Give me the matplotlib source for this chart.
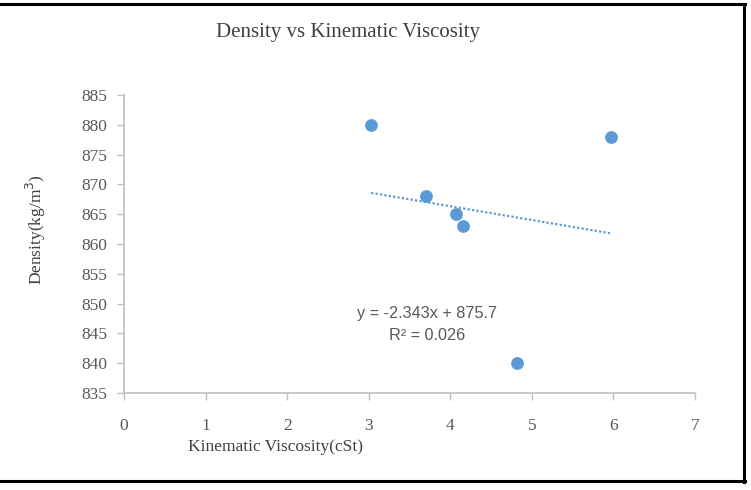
import numpy as np
import matplotlib
matplotlib.use("Agg")
import matplotlib.pyplot as plt
from matplotlib.lines import Line2D

# Data
viscosity = [3.03, 5.97, 3.70, 4.07, 4.15, 4.82]
density = [880, 878, 868, 865, 863, 840]
x_ticks = [0, 1, 2, 3, 4, 5, 6, 7]
y_ticks = [835, 840, 845, 850, 855, 860, 865, 870, 875, 880, 885]
eq_text = "y = -2.343x + 875.7"
r2_text = "R² = 0.026"

W, H = 751, 490
fig = plt.figure(figsize=(W / 100, H / 100), dpi=100)
fig.patch.set_facecolor("white")

ax = fig.add_axes([124 / W, 1 - 393 / H, (695 - 124) / W, (393 - 95) / H])

blue = "#5B9BD5"
gray_axis = "#BFBFBF"
text_col = "#595959"

ax.scatter(viscosity, density, s=85, color=blue, zorder=3, linewidths=0)

# Linear trendline
coef = np.polyfit(viscosity, density, 1)
xs = np.array([min(viscosity), max(viscosity)])
ax.plot(xs, np.polyval(coef, xs), linestyle=(0, (1, 1)), color=blue, linewidth=1.6, zorder=2)

ax.set_xlim(0, 7)
ax.set_ylim(835, 885)
ax.set_xticks(x_ticks)
ax.set_yticks(y_ticks)

for s in ["top", "right"]:
    ax.spines[s].set_visible(False)
for s in ["left", "bottom"]:
    ax.spines[s].set_color(gray_axis)
    ax.spines[s].set_linewidth(1.2)

ax.tick_params(axis="both", direction="out", length=5, width=1, color=gray_axis,
               labelcolor=text_col, labelsize=12.5)
ax.tick_params(axis="x", pad=13)
ax.tick_params(axis="y", pad=7)
for lab in ax.get_xticklabels() + ax.get_yticklabels():
    lab.set_fontfamily("Liberation Serif")

ax.text(3.71, 848.3, eq_text, ha="center", va="center", fontsize=11.7,
        color=text_col, family="Liberation Sans")
ax.text(3.71, 844.6, r2_text, ha="center", va="center", fontsize=11.7,
        color=text_col, family="Liberation Sans")

fig.text(348 / W, 1 - 33 / H, "Density vs Kinematic Viscosity", ha="center", va="center",
         fontsize=15, color="#404040", family="Liberation Serif")
fig.text(276 / W, 1 - 447 / H, "Kinematic Viscosity(cSt)", ha="center", va="center",
         fontsize=12.5, color="#404040", family="Liberation Serif")
fig.text(36 / W, 1 - 230 / H, "Density(kg/m$^3$)", ha="center", va="center", rotation=90,
         fontsize=12.5, color="#404040", family="Liberation Serif")

# Outer frame (top, right, bottom)
lw = 2.2
fig.add_artist(Line2D([0, 745 / W], [1 - 4 / H, 1 - 4 / H], transform=fig.transFigure, color="black", lw=lw))
fig.add_artist(Line2D([744 / W, 744 / W], [1 - 4 / H, 1 - 482 / H], transform=fig.transFigure, color="black", lw=lw))
fig.add_artist(Line2D([0, 745 / W], [1 - 481 / H, 1 - 481 / H], transform=fig.transFigure, color="black", lw=lw))

fig.savefig("out.png", dpi=100, facecolor="white")
